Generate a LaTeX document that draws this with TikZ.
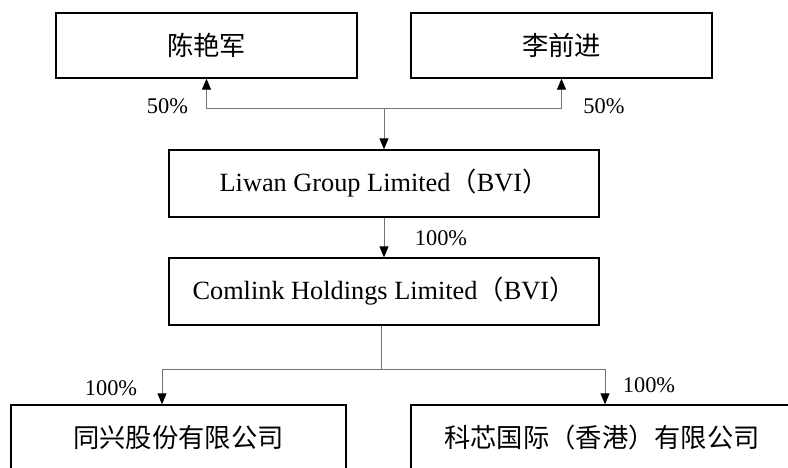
\documentclass[tikz,border=0pt]{standalone}
\usepackage{fontspec}
\setmainfont{Liberation Serif}
\newfontfamily\cjk{Noto Sans CJK SC}
\usetikzlibrary{arrows.meta}

\begin{document}
\begin{tikzpicture}[x=1pt,y=-1pt]
    % Define styles
    \tikzstyle{entity}=[draw,line width=1.3pt,minimum height=65pt,inner sep=0pt,font=\fontsize{26.3}{30}\selectfont]
    \tikzstyle{link}=[black!55,line width=0.9pt,-{Triangle[length=11pt,width=9pt,color=black]}]
    \tikzstyle{share}=[font=\fontsize{22.4}{26}\selectfont]

    % Canvas
    \useasboundingbox (0,0) rectangle (788,468);
    \clip (0,0) rectangle (788,468);

    % Shareholders
    \node[entity,minimum width=301pt] (chen) at (206.5,45.5) {\cjk 陈艳军};
    \node[entity,minimum width=301pt] (li) at (561.5,45.5) {\cjk 李前进};

    % Holding companies
    \node[entity,minimum width=430pt,minimum height=67pt] (liwan) at (384,183.5) {Liwan Group Limited{\cjk （}BVI{\cjk ）}};
    \node[entity,minimum width=430pt,minimum height=67pt] (comlink) at (384,291.5) {Comlink Holdings Limited{\cjk （}BVI{\cjk ）}};

    % Subsidiaries
    \node[entity,minimum width=335pt,minimum height=66pt] (tongxing) at (178.5,438) {\cjk 同兴股份有限公司};
    \node[entity,minimum width=382pt,minimum height=66pt] (kexin) at (602,438) {\cjk 科芯国际（香港）有限公司};

    % Junctions
    \coordinate (jtop) at (384,108);
    \coordinate (jbot) at (381,369);

    % Connections
    \draw[link] (jtop) -| (chen);
    \draw[link] (jtop) -| (li);
    \draw[link] (jtop) -- (liwan);
    \draw[link] (liwan) -- (comlink);
    \draw[link,-] (comlink.south -| jbot) -- (jbot);
    \draw[link] (jbot) -| ([xshift=-16.5pt]tongxing.north);
    \draw[link] (jbot) -| ([xshift=3pt]kexin.north);

    % Shares
    \node[share] (schen) at (167.5,106) {50\%};
    \node[share] (sli) at (604,106) {50\%};
    \node[share] (sliwan) at (441,238) {100\%};
    \node[share] (stong) at (111,388) {100\%};
    \node[share] (skexin) at (649,385) {100\%};
\end{tikzpicture}
\end{document}
